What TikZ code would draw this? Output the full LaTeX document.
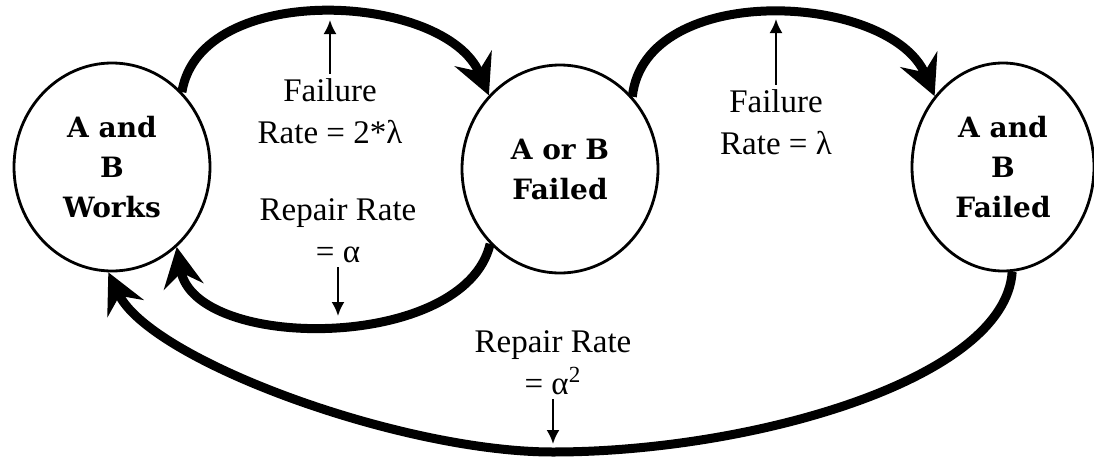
\documentclass[tikz,border=0pt]{standalone}
\usepackage{fontspec}
\setmainfont{Liberation Serif}
\newfontfamily\statefont{DejaVu Serif}
\usetikzlibrary{arrows.meta,shapes.geometric}
\tikzset{
  state/.style={ellipse, draw, line width=1.4pt, minimum width=98pt, minimum height=104pt,
    inner sep=0pt, align=center, font=\statefont\bfseries\fontsize{14}{20}\selectfont},
  rate/.style={align=center, inner sep=2pt, font=\fontsize{16.5}{21}\selectfont},
  flow/.style={line width=4.5pt, -{Stealth[length=20pt,width=20pt,inset=7pt]}},
  pointer/.style={line width=1.1pt, -{Latex[length=7pt,width=6.5pt]}}
}
\begin{document}
\begin{tikzpicture}[x=0.5pt,y=-0.5pt]
\useasboundingbox (0,0) rectangle (1094,456);
% states
\node[state] (n1) at (112,167) {A and\\B\\Works};
\node[state] (n2) at (560,169) {A or B\\Failed};
\node[state, minimum width=91pt] (n3) at (1003,167) {A and\\B\\Failed};
% labels
\node[rate] (L1) at (330,111) {Failure\\Rate = 2*λ};
\node[rate] (L2) at (338,231) {Repair Rate\\= α};
\node[rate] (L3) at (776,122) {Failure\\Rate = λ};
\node[rate] (L4) at (553,363) {Repair Rate\\= α\textsuperscript{2}};
% flows
\draw[flow] (n1.47) .. controls (200,-20) and (445,-8) .. (n2.134);
\draw[flow] (n2.227) .. controls (465,352) and (195,352) .. (n1.309);
\draw[flow] (n2.45) .. controls (645,-20) and (890,-8) .. (n3.134);
\draw[flow] (n3.275) .. controls (1005,380) and (750,452) .. (553,452)
  .. controls (400,452) and (150,360) .. (n1.268);
% pointers
\coordinate (p1) at (0,20);
\coordinate (p2) at (0,316);
\coordinate (p3) at (0,19);
\coordinate (p4) at (0,444);
\draw[pointer] (L1.north) -- (L1.north |- p1);
\draw[pointer] (L2.south) -- (L2.south |- p2);
\draw[pointer] (L3.north) -- (L3.north |- p3);
\draw[pointer] (L4.south) -- (L4.south |- p4);
\end{tikzpicture}
\end{document}
